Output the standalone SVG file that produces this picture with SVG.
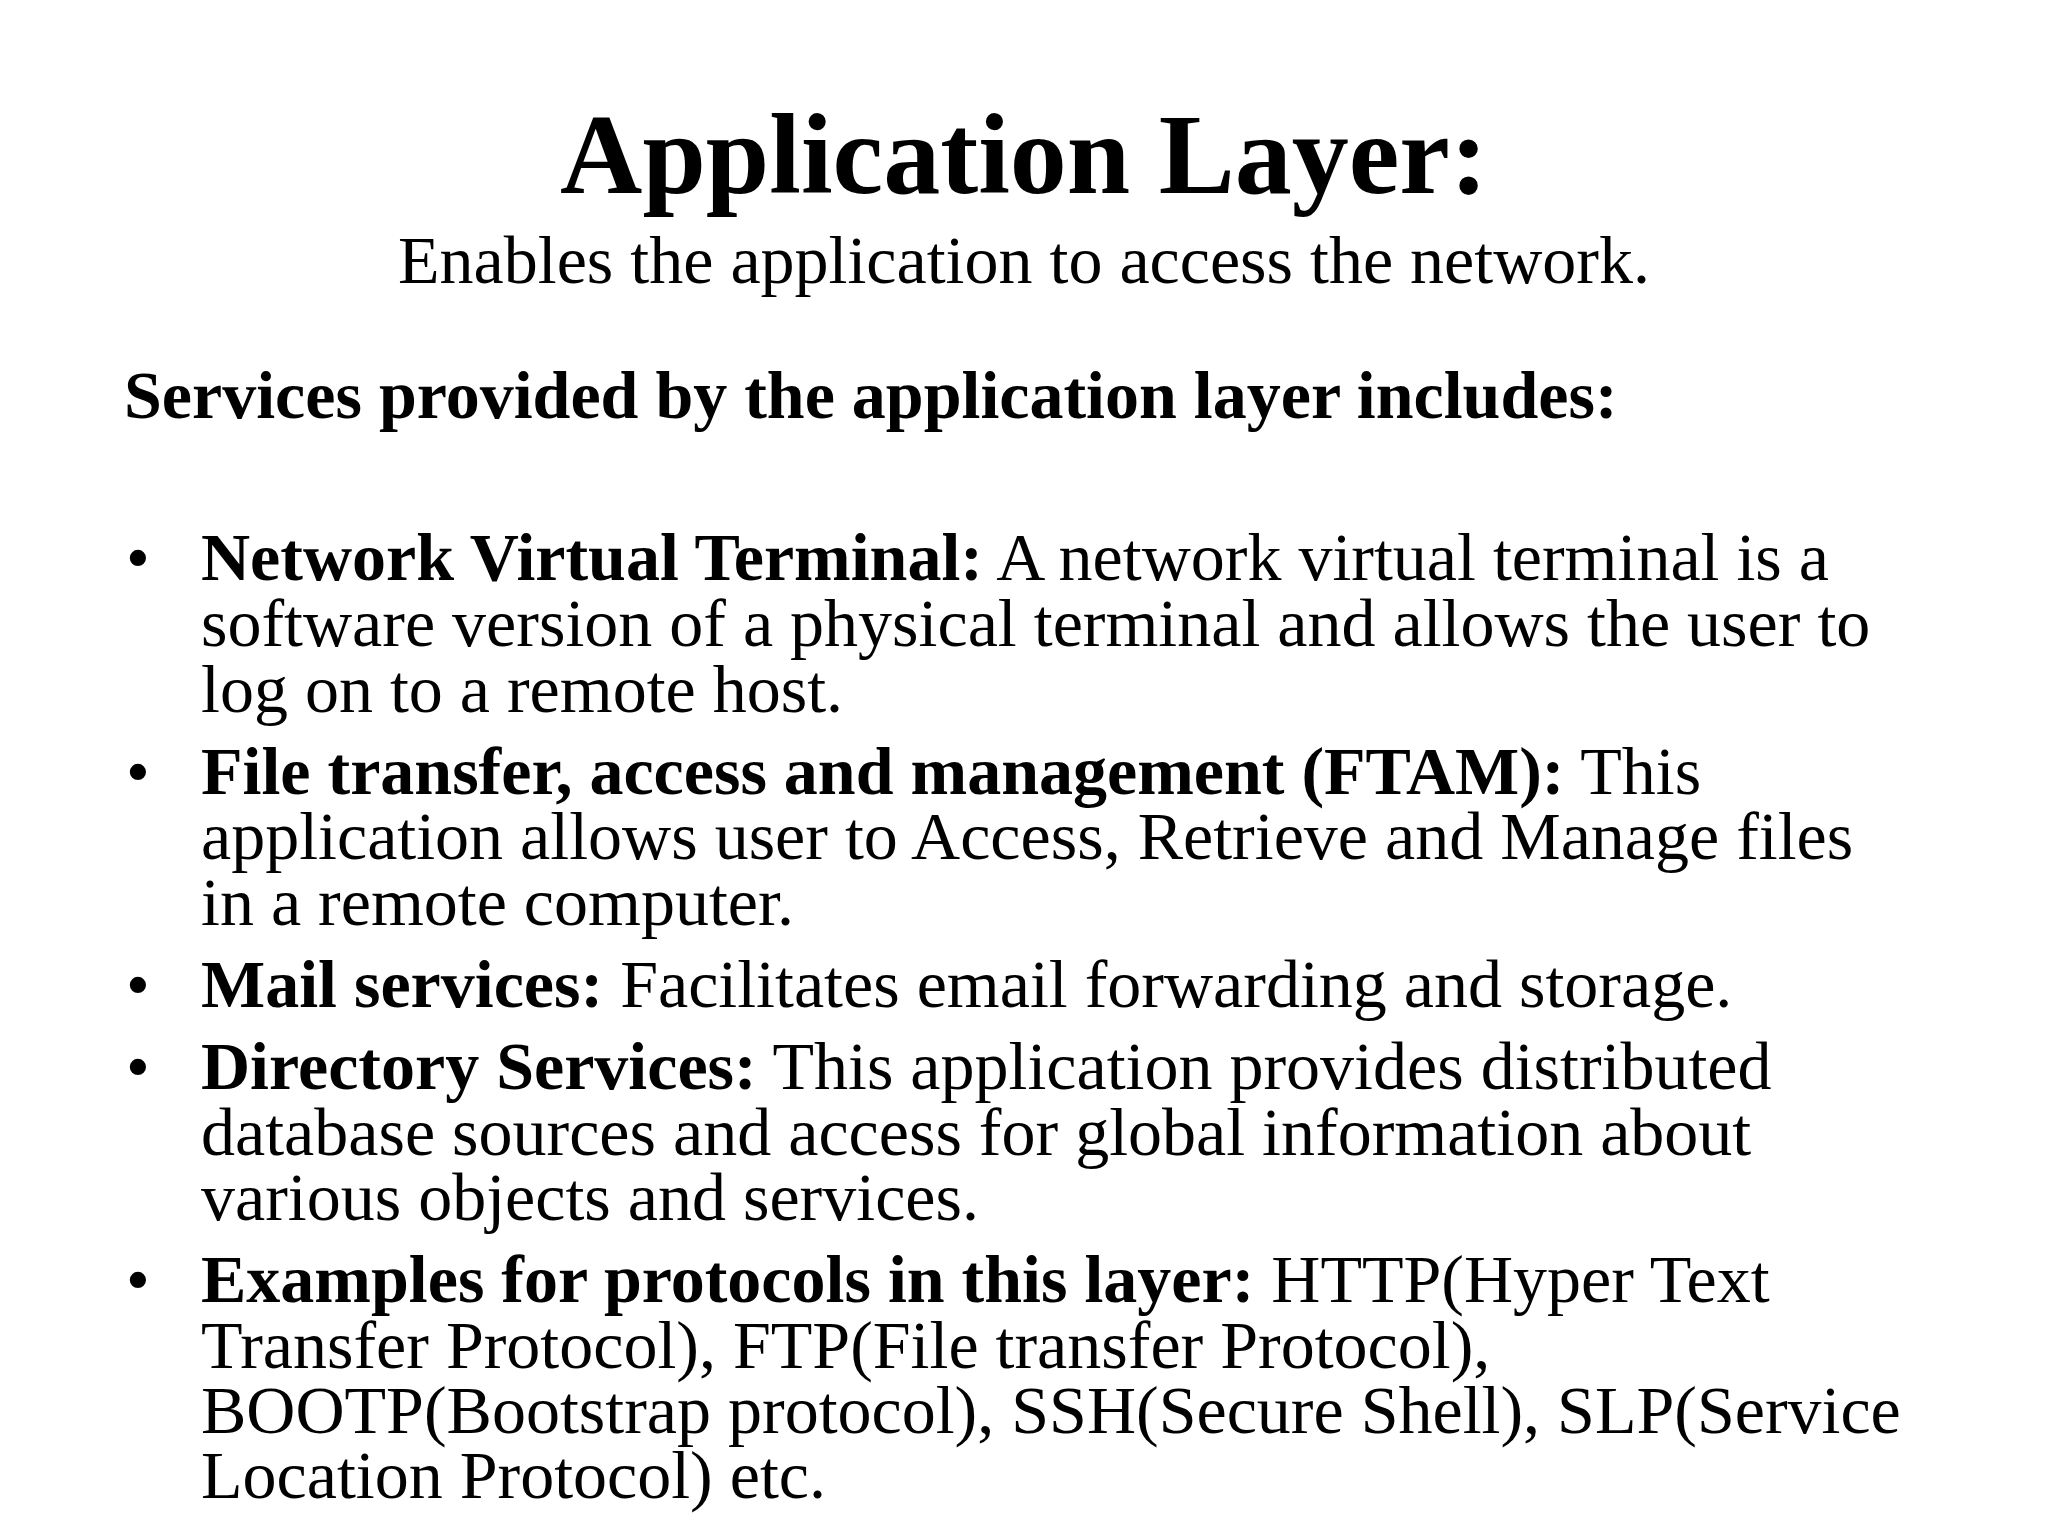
<svg xmlns="http://www.w3.org/2000/svg" width="2048" height="1536" viewBox="0 0 2048 1536">
<style>
text{font-family:"Liberation Serif","Times New Roman",serif;fill:#000}
.b{font-weight:bold}
.t{font-size:68px}
</style>
<rect width="2048" height="1536" fill="#fff"/>
<g id="title"><text x="1024" y="193" text-anchor="middle" class="b" font-size="114">Application Layer:</text></g>
<g id="subtitle"><text x="1024" y="283" text-anchor="middle" font-size="68">Enables the application to access the network.</text></g>
<g id="heading"><text x="124" y="418" class="b" font-size="68">Services provided by the application layer includes:</text></g>
<g id="bullets" class="t">
<text x="126" y="580" class="t">•</text>
<text x="201" y="580" class="t"><tspan class="b">Network Virtual Terminal:</tspan> A network virtual terminal is a</text>
<text x="201" y="646" class="t">software version of a physical terminal and allows the user to</text>
<text x="201" y="712" class="t">log on to a remote host.</text>
<text x="126" y="794" class="t">•</text>
<text x="201" y="794" class="t"><tspan class="b">File transfer, access and management (FTAM):</tspan> This</text>
<text x="201" y="859" class="t">application allows user to Access, Retrieve and Manage files</text>
<text x="201" y="925" class="t">in a remote computer.</text>
<text x="126" y="1007" class="t">•</text>
<text x="201" y="1007" class="t"><tspan class="b">Mail services:</tspan> Facilitates email forwarding and storage.</text>
<text x="126" y="1089" class="t">•</text>
<text x="201" y="1089" class="t"><tspan class="b">Directory Services:</tspan> This application provides distributed</text>
<text x="201" y="1155" class="t">database sources and access for global information about</text>
<text x="201" y="1220" class="t">various objects and services.</text>
<text x="126" y="1302" class="t">•</text>
<text x="201" y="1302" class="t"><tspan class="b">Examples for protocols in this layer:</tspan> HTTP(Hyper Text</text>
<text x="201" y="1368" class="t">Transfer Protocol), FTP(File transfer Protocol),</text>
<text x="201" y="1433" class="t">BOOTP(Bootstrap protocol), SSH(Secure Shell), SLP(Service</text>
<text x="201" y="1498" class="t">Location Protocol) etc.</text>
</g>
</svg>
